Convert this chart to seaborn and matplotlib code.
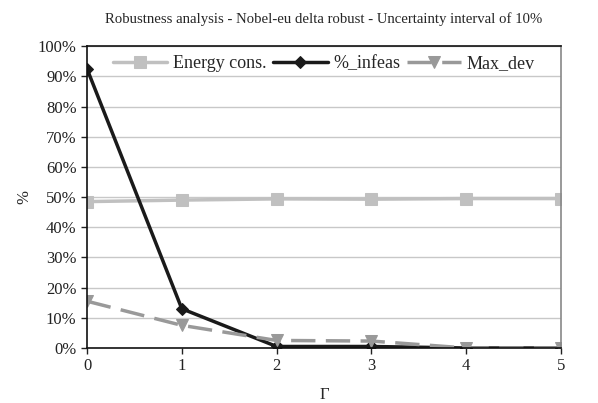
import matplotlib
matplotlib.use("Agg")
import matplotlib.pyplot as plt
import seaborn as sns
import pandas as pd

gamma = [0, 1, 2, 3, 4, 5]
energy_cons = [48.5, 49.0, 49.4, 49.3, 49.5, 49.5]
pct_infeas = [92.5, 13.0, 0.5, 0.5, 0.0, 0.0]
max_dev = [15.5, 7.5, 2.5, 2.3, 0.0, 0.0]
yticks = [0, 10, 20, 30, 40, 50, 60, 70, 80, 90, 100]

sns.set_style("white")
plt.rcParams['font.family'] = ['Liberation Serif', 'DejaVu Serif']

df = pd.DataFrame({"gamma": gamma, "Energy cons.": energy_cons,
                   "%_infeas": pct_infeas, "Max_dev": max_dev})

fig = plt.figure(figsize=(5.98, 4.03), dpi=100)
ax = fig.add_axes([0.1455, 0.1365, 0.7926, 0.749])

sns.lineplot(data=df, x="gamma", y="Energy cons.", ax=ax, color="#c0c0c0", lw=2.5,
             marker="s", markersize=8, markeredgecolor="#c0c0c0", label="Energy cons.")
sns.lineplot(data=df, x="gamma", y="%_infeas", ax=ax, color="#1a1a1a", lw=2.5,
             marker="D", markersize=6, markeredgecolor="#1a1a1a", label="%_infeas")
sns.lineplot(data=df, x="gamma", y="Max_dev", ax=ax, color="#999999", lw=2.5,
             marker="v", markersize=9, markeredgecolor="#999999", label="Max_dev")
ax.lines[-1].set_linestyle((0, (7, 3)))

ax.set_xlim(0, 5)
ax.set_ylim(0, 100)
ax.set_yticks(yticks)
ax.set_yticklabels([f"{v}%" for v in yticks])
ax.set_xticks(gamma)
ax.yaxis.grid(True, color="#c8c8c8", lw=1)
ax.set_axisbelow(True)
for s in ["left", "bottom", "top"]:
    ax.spines[s].set_color("#111111")
    ax.spines[s].set_linewidth(1.2)
ax.spines["right"].set_color("#888888")
ax.spines["right"].set_linewidth(1.2)
ax.tick_params(axis="both", direction="out", length=4, width=1, colors="#222222",
               labelsize=12, left=True, bottom=True)
ax.set_xlabel("Γ", fontsize=12, labelpad=9)
ax.set_ylabel("%", fontsize=12, labelpad=4)
ax.set_title("Robustness analysis - Nobel-eu delta robust - Uncertainty interval of 10%",
             fontsize=10.6, pad=17)

leg = ax.legend(loc="upper center", ncol=3, frameon=False, fontsize=13,
                handlelength=3.0, columnspacing=0.4, handletextpad=0.3,
                bbox_to_anchor=(0.5, 1.005), borderaxespad=0.2)

fig.savefig("out.png", dpi=100)
